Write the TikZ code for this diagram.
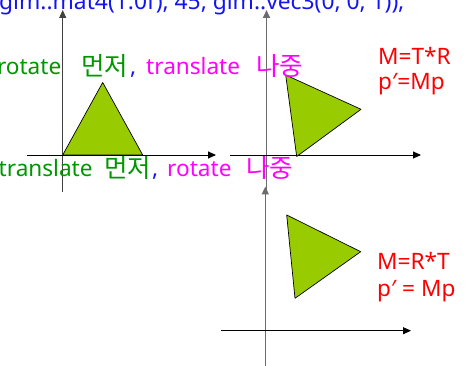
\documentclass[tikz,border=0pt]{standalone}
\usepackage{fontspec}
\setmainfont{Noto Sans}
\newfontfamily\kr{Noto Sans CJK KR}
\usetikzlibrary{arrows.meta}
\definecolor{cgreen}{RGB}{0,150,0}
\definecolor{cmag}{RGB}{255,0,255}
\definecolor{cblue}{RGB}{20,20,240}
\definecolor{cred}{RGB}{255,0,0}
\definecolor{tri}{RGB}{153,204,0}
\tikzset{
  txt/.style={inner sep=0pt, anchor=base west, font=\fontsize{22.6}{26}\selectfont},
  codet/.style={txt, font=\fontsize{22.8}{26}\selectfont},
  krt/.style={txt, font=\fontsize{25.5}{28}\selectfont\kr},
  haxis/.style={black, line width=0.9pt, -{Triangle[length=8pt,width=7pt]}},
  vaxis/.style={gray!85!black, line width=1.6pt, -{Triangle[length=8pt,width=7pt]}},
  vaxisA/.style={black!75, line width=0.9pt, -{Triangle[length=8pt,width=7pt]}},
  shape tri/.style={fill=tri, draw=black, line width=0.7pt, line join=round}
}
\begin{document}
\begin{tikzpicture}[x=1pt,y=-1pt]
\useasboundingbox (0,0) rectangle (472,366);
% top code line
\node[codet, text=cblue] (code) at (-1,10) {glm::mat4(1.0f), 45, glm::vec3(0, 0, 1));};

% plot 1
\coordinate (a1s) at (62.7,192);
\coordinate (a1e) at (62.7,10);
\coordinate (h1s) at (27,155);
\coordinate (h1e) at (216,155);
\coordinate (t1a) at (62.7,155);
\coordinate (t1b) at (142.7,155);
\coordinate (t1c) at (102.7,82.5);
\draw[shape tri] (t1a) -- (t1b) -- (t1c) -- cycle;
\draw[vaxisA] (a1s) -- (a1e);
\draw[haxis] (h1s) -- (h1e);

% plot 2
\coordinate (a2s) at (266.5,190);
\coordinate (a2e) at (266.5,10);
\coordinate (h2s) at (230,155);
\coordinate (h2e) at (421,155);
\coordinate (t2a) at (285.7,75);
\coordinate (t2b) at (361,109.3);
\coordinate (t2c) at (296.7,156.5);
\draw[vaxis] (a2s) -- (a2e);
\draw[haxis] (h2s) -- (h2e);
\draw[shape tri] (t2a) -- (t2b) -- (t2c) -- cycle;

% plot 3
\coordinate (a3s) at (265.3,366);
\coordinate (a3e) at (265.3,186.5);
\coordinate (h3s) at (221,330.7);
\coordinate (h3e) at (411,330.7);
\coordinate (t3a) at (286.7,215);
\coordinate (t3b) at (360.7,251.7);
\coordinate (t3c) at (295,298.3);
\draw[vaxis] (a3s) -- (a3e);
\draw[haxis] (h3s) -- (h3e);
\draw[shape tri] (t3a) -- (t3b) -- (t3c) -- cycle;

% line 1
\node[txt, text=cgreen, anchor=base east] (l1a) at (61.5,75) {rotate};
\node[krt, text=cgreen] (l1b) at (81,76) {먼저};
\node[txt, text=cblue] (l1c) at (130,75) {,};
\node[txt, text=cmag] (l1d) at (146,75) {translate};
\node[krt, text=cmag] (l1e) at (256,76) {나중};

% line 2
\node[txt, text=cgreen] (l2a) at (-1.5,177) {translate};
\node[krt, text=cgreen] (l2b) at (104,178) {먼저};
\node[txt, text=cblue] (l2c) at (152,177) {,};
\node[txt, text=cmag] (l2d) at (167,177) {rotate};
\node[krt, text=cmag] (l2e) at (246,178) {나중};

% matrices
\node[txt, text=cred] (m1) at (378,65) {M=T*R};
\node[txt, text=cred] (p1) at (378,90) {p′=Mp};
\node[txt, text=cred] (m2) at (377,270) {M=R*T};
\node[txt, text=cred] (p2) at (377,296.5) {p′ = Mp};
\end{tikzpicture}
\end{document}
